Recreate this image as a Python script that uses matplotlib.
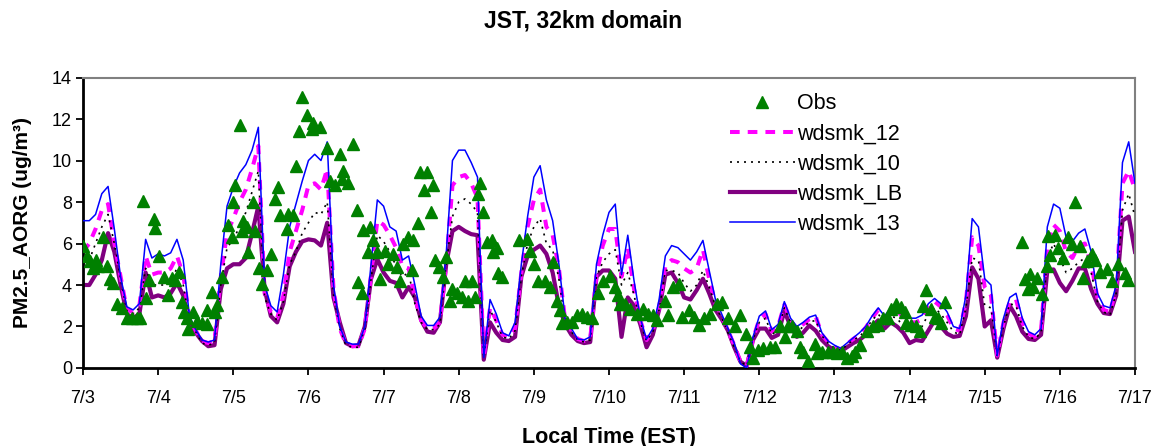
import numpy as np
import matplotlib
matplotlib.use("Agg")
import matplotlib.pyplot as plt

# Hourly PM2.5 AORG, sampled every 2 hours from 7/3 00:00 to 7/17 00:00 (EST)
hours = np.arange(0, 337, 2)

wdsmk_13 = [
    7.1, 7.1, 7.4, 8.4, 8.75, 6.7, 4.4, 2.95, 2.8, 3.1, 6.2, 5.3,
    5.5, 5.4, 5.55, 6.2, 5.2, 2.5, 1.85, 1.35, 1.25, 1.35, 5.0, 7.8,
    8.7, 9.4, 9.8, 10.5, 11.6, 4.0, 3.0, 2.7, 4.5, 6.8, 7.9, 9.0,
    10.0, 10.3, 10.0, 10.9, 4.0, 2.0, 1.25, 1.15, 1.15, 2.0, 5.0, 8.1,
    7.8, 6.8, 6.6, 5.2, 5.4, 4.0, 2.5, 2.05, 2.05, 2.45, 5.5, 10.0,
    10.5, 10.5, 9.9, 9.2, 0.5, 3.3, 2.6, 1.7, 1.55, 2.2, 5.0, 7.3,
    9.2, 9.75, 8.1, 7.1, 5.0, 2.4, 1.9, 1.4, 1.35, 1.5, 5.0, 6.4,
    7.5, 7.9, 4.5, 6.4, 4.2, 2.4, 1.4, 1.9, 3.3, 5.4, 5.9, 5.8,
    5.5, 5.2, 5.6, 6.15, 4.7, 3.3, 2.6, 1.9, 1.2, 0.2, 0.0, 1.5,
    2.5, 2.75, 1.85, 2.1, 3.2, 2.4, 2.0, 2.2, 2.45, 2.55, 1.7, 1.3,
    1.1, 0.95, 1.2, 1.45, 1.7, 2.0, 2.5, 2.9, 2.5, 2.9, 2.95, 2.6,
    2.4, 2.4, 2.55, 3.1, 3.35, 3.1, 2.7, 2.0, 1.9, 3.5, 7.2, 6.8,
    4.3, 4.0, 0.6, 2.4, 3.4, 3.6, 2.4, 1.75, 1.6, 1.9, 6.8, 7.9,
    7.7, 6.3, 6.1, 6.5, 6.7, 5.6, 3.6, 3.0, 2.9, 4.0, 9.9, 10.9,
    8.9,
]

wdsmk_12 = [
    5.6, 6.0, 6.7, 7.6, 7.9, 6.0, 4.4, 2.8, 2.7, 3.0, 5.4, 4.5,
    4.6, 4.6, 4.8, 5.4, 4.5, 2.4, 1.8, 1.3, 1.2, 1.3, 4.4, 6.5,
    7.2, 8.0, 8.6, 9.6, 10.7, 3.6, 2.7, 2.4, 3.5, 5.6, 6.6, 7.6,
    8.8, 8.9, 8.6, 9.6, 3.8, 1.9, 1.15, 1.05, 1.05, 1.9, 4.5, 7.1,
    6.9, 6.4, 5.8, 4.9, 4.8, 3.4, 2.3, 1.9, 1.9, 2.2, 5.0, 8.8,
    9.2, 9.3, 8.9, 8.2, 0.5, 2.9, 2.3, 1.6, 1.5, 1.9, 4.6, 6.8,
    8.1, 8.6, 6.8, 6.4, 4.8, 2.3, 1.8, 1.4, 1.3, 1.4, 4.5, 5.9,
    6.7, 6.7, 4.4, 5.8, 3.8, 2.3, 1.35, 1.8, 2.9, 4.9, 5.2, 5.1,
    4.8, 4.6, 4.8, 5.7, 4.3, 3.1, 2.5, 1.8, 1.1, 0.3, 0.1, 1.4,
    2.35, 2.6, 1.75, 2.0, 3.05, 2.3, 1.85, 2.1, 2.35, 2.5, 1.6, 1.25,
    1.0, 0.9, 1.15, 1.4, 1.6, 1.95, 2.4, 2.8, 2.4, 2.7, 2.8, 2.4,
    2.2, 2.2, 2.35, 2.9, 3.2, 2.95, 2.55, 1.9, 1.8, 3.2, 6.3, 5.9,
    3.9, 3.5, 0.6, 2.2, 3.2, 3.3, 2.2, 1.65, 1.5, 1.8, 5.9, 6.9,
    6.6, 5.6, 5.3, 5.9, 6.0, 5.0, 3.4, 2.8, 2.7, 3.8, 8.9, 9.5,
    8.6,
]

wdsmk_10 = [
    5.0, 5.2, 6.0, 6.8, 7.4, 6.0, 4.3, 2.75, 2.6, 2.9, 4.8, 4.0,
    4.0, 4.0, 4.2, 4.8, 4.0, 2.3, 1.75, 1.2, 1.1, 1.2, 4.0, 5.8,
    6.2, 6.8, 7.5, 8.5, 9.5, 3.4, 2.6, 2.3, 3.2, 5.0, 5.6, 6.5,
    7.0, 7.5, 7.4, 8.0, 3.6, 1.9, 1.1, 1.0, 1.0, 1.9, 4.3, 6.4,
    6.1, 5.6, 4.9, 4.4, 4.6, 3.1, 2.2, 1.85, 1.85, 2.1, 5.0, 7.3,
    8.0, 8.15, 7.9, 7.5, 0.5, 2.8, 2.2, 1.5, 1.4, 1.8, 4.4, 6.0,
    6.8, 7.2, 6.0, 5.7, 4.3, 2.2, 1.75, 1.35, 1.25, 1.35, 4.4, 5.1,
    5.5, 5.7, 4.0, 4.6, 3.5, 2.2, 1.3, 1.75, 2.8, 4.7, 4.7, 4.6,
    4.1, 3.7, 4.0, 4.7, 3.9, 3.0, 2.4, 1.7, 1.0, 0.3, 0.1, 1.4,
    2.2, 2.4, 1.6, 1.85, 2.9, 2.2, 1.7, 2.0, 2.2, 2.3, 1.55, 1.2,
    0.95, 0.85, 1.1, 1.35, 1.5, 1.85, 2.3, 2.6, 2.2, 2.5, 2.4, 2.0,
    1.8, 1.8, 2.0, 2.6, 2.9, 2.6, 2.2, 1.75, 1.6, 2.9, 5.3, 5.2,
    3.0, 2.9, 0.6, 2.0, 3.1, 3.0, 2.0, 1.5, 1.4, 1.7, 5.3, 6.0,
    5.3, 4.6, 4.8, 5.1, 5.3, 4.6, 3.2, 2.7, 2.55, 3.6, 7.6, 8.4,
    7.3,
]

wdsmk_LB = [
    4.0, 4.0, 4.5, 5.2, 6.5, 5.6, 4.0, 2.6, 2.4, 2.6, 4.6, 3.4,
    3.5, 3.4, 3.6, 4.1, 3.5, 2.2, 1.7, 1.3, 1.05, 1.1, 3.8, 4.8,
    5.0, 5.0, 5.3, 6.5, 7.8, 3.8, 2.5, 2.2, 3.1, 4.9, 5.6, 6.1,
    6.2, 6.15, 5.9, 7.0, 3.4, 2.2, 1.2, 1.05, 1.1, 2.0, 4.3, 5.25,
    4.6, 4.2, 4.1, 3.4, 3.9, 3.4, 2.3, 1.75, 1.7, 2.2, 5.0, 6.6,
    6.8, 6.6, 6.45, 6.4, 0.4, 2.2, 1.7, 1.35, 1.3, 1.5, 4.4, 5.4,
    5.7, 5.9, 5.5, 4.6, 3.0, 2.1, 1.6, 1.3, 1.2, 1.25, 4.4, 4.7,
    4.7, 4.3, 1.5, 3.4, 3.0, 2.1, 1.0, 1.6, 2.8, 4.5, 4.6, 4.1,
    3.4, 3.3, 3.75, 4.3, 3.6, 2.8, 2.35, 1.8, 1.0, 0.3, 0.1, 1.35,
    1.9, 1.9, 1.45, 1.6, 2.75, 2.0, 1.5, 1.7, 2.05, 1.8, 1.35, 1.05,
    0.85, 0.8, 1.0, 1.2, 1.35, 1.6, 2.0, 2.3, 1.9, 2.2, 2.0, 1.7,
    1.2, 1.35, 1.3, 1.8, 2.3, 2.0, 1.65, 1.5, 1.55, 2.5, 4.85, 4.3,
    2.0, 2.3, 0.5, 1.9, 3.0, 2.5, 1.75, 1.4, 1.35, 1.6, 4.7, 4.75,
    4.1, 3.7, 4.2, 4.8, 4.8, 3.8, 3.1, 2.65, 2.6, 3.5, 7.1, 7.3,
    5.6,
]

# Observed values: hour since 7/3 00:00 and concentration
obs_hours = [
    0.1, 1.4, 2.2, 3.1, 4.1, 4.9, 6.3, 7.6, 8.6, 9.7, 11.0, 12.3, 14.0, 15.5,
    17.1, 18.2, 19.3, 20.1, 21.2, 22.7, 23.0, 24.2, 25.9, 27.3, 28.3, 29.4,
    30.5, 31.5, 32.3, 33.1, 33.5, 35.2, 36.3, 37.9, 39.5, 39.7, 41.1, 42.2,
    42.9, 44.3, 46.4, 47.5, 48.0, 48.6, 50.1, 50.7, 51.2, 52.3, 52.8, 54.2,
    55.0, 56.3, 57.1, 58.7, 60.0, 61.3, 62.4, 62.9, 65.0, 65.6, 67.2, 68.0,
    69.1, 69.8, 71.4, 73.0, 73.5, 75.7, 77.8, 78.9, 80.5, 82.1, 82.6, 83.1,
    84.7, 86.1, 87.4, 87.9, 89.0, 89.5, 91.1, 91.7, 92.7, 93.8, 94.8, 96.4,
    97.5, 99.1, 100.2, 101.2, 102.3, 103.9, 105.0, 105.5, 107.1, 107.6,
    108.9, 109.8, 111.0, 111.9, 112.4, 113.8, 115.1, 115.9, 117.2, 117.7,
    119.3, 120.9, 122.0, 123.1, 124.1, 125.2, 126.3, 126.8, 127.9, 128.9,
    130.5, 131.1, 132.1, 132.7, 133.7, 139.3, 141.7, 142.8, 143.9, 145.4,
    147.6, 149.2, 150.0, 151.3, 152.4, 152.9, 154.5, 156.1, 157.7, 159.3,
    160.9, 162.5, 164.6, 166.2, 168.3, 169.9, 171.0, 171.5, 173.1, 174.7,
    176.9, 179.0, 180.6, 182.2, 183.3, 185.9, 187.0, 188.6, 190.2, 191.2,
    193.4, 195.0, 196.9, 198.2, 200.3, 202.4, 204.0, 206.1, 208.2, 209.8,
    211.9, 213.0, 214.1, 215.6, 217.2, 219.4, 221.0, 222.6, 224.2, 225.2,
    226.5, 227.9, 229.0, 230.0, 231.6, 233.7, 234.3, 235.9, 238.0, 239.6,
    240.7, 242.3, 243.9, 245.5, 246.5, 248.1, 250.3, 252.4, 254.0, 255.6,
    257.2, 258.2, 259.8, 261.4, 262.5, 263.0, 264.6, 266.2, 267.3, 268.4,
    269.4, 271.0, 272.1, 273.2, 274.2, 275.3, 299.8, 300.9, 301.9, 302.4,
    303.5, 304.6, 306.2, 307.8, 308.3, 308.8, 310.4, 311.5, 313.1, 314.7,
    315.8, 316.8, 318.4, 319.5, 320.6, 322.2, 323.2, 324.8, 327.0, 328.5,
    330.7, 332.8, 333.9,
]
obs_values = [
    5.9, 5.4, 5.15, 4.8, 5.2, 4.9, 6.3, 4.9, 4.3, 4.1, 3.1, 2.9, 2.4, 2.4,
    2.4, 2.4, 8.05, 3.35, 4.25, 7.2, 6.75, 5.4, 4.4, 3.5, 4.35, 4.25,
    4.65, 3.2, 2.7, 2.4, 1.9, 2.7, 2.25, 2.15, 2.1, 2.8, 3.65, 2.7,
    3.05, 4.4, 6.9, 6.3, 8.0, 8.8, 11.7, 6.6, 7.1, 6.8, 5.6, 8.0,
    6.6, 4.8, 4.05, 4.7, 5.5, 8.15, 8.7, 7.35, 6.7, 7.4, 7.35, 9.75,
    11.4, 13.05, 12.2, 11.5, 11.8, 11.6, 10.6, 9.0, 8.8, 10.3, 9.1, 9.5,
    8.9, 10.8, 7.6, 4.15, 3.6, 6.65, 5.6, 6.8, 6.15, 5.6, 4.3, 5.65,
    5.0, 5.5, 4.85, 4.2, 6.0, 6.3, 4.7, 6.15, 7.0, 9.45,
    8.6, 9.45, 7.5, 8.8, 5.2, 4.85, 4.4, 5.35, 3.25, 3.8,
    3.6, 3.4, 4.2, 3.25, 4.2, 3.4, 8.4, 8.9, 7.5, 6.05,
    6.15, 5.6, 5.8, 4.6, 4.4, 6.15, 6.2, 5.65, 5.0, 4.2,
    4.2, 3.9, 5.1, 3.25, 2.8, 2.15, 2.2, 2.2, 2.55, 2.6,
    2.45, 2.4, 3.6, 4.2, 4.45, 3.9, 3.5, 3.1, 3.1, 2.85,
    2.6, 2.85, 2.6, 2.55, 2.3, 3.25, 2.55, 3.9, 4.05, 2.45,
    2.8, 2.45, 2.05, 2.4, 2.6, 3.1, 3.2, 2.4, 2.0, 2.55,
    1.65, 1.0, 0.5, 0.85, 0.95, 1.0, 1.0, 2.0, 1.5, 2.0,
    2.0, 1.8, 1.0, 0.75, 0.35, 1.15, 0.7, 0.75, 0.75, 0.75,
    0.7, 0.75, 0.5, 0.6, 0.75, 1.1, 1.8, 2.0, 2.05, 2.4,
    2.4, 2.85, 3.1, 2.95, 2.7, 2.15, 2.05, 2.0, 1.8, 3.0,
    3.75, 2.85, 2.45, 2.4, 2.15, 3.2, 6.05, 4.3, 3.8, 4.55,
    3.9, 4.35, 3.55, 4.9, 6.35, 5.45, 6.4, 5.8, 5.3, 6.3,
    6.0, 8.0, 5.9, 4.35, 5.15, 5.5, 5.2, 4.65, 4.75, 4.2,
    5.0, 4.6, 4.25,
]

day_labels = ["7/3", "7/4", "7/5", "7/6", "7/7", "7/8", "7/9", "7/10",
              "7/11", "7/12", "7/13", "7/14", "7/15", "7/16", "7/17"]
y_ticks = [0, 2, 4, 6, 8, 10, 12, 14]

plt.rcParams["font.family"] = ["Liberation Sans", "DejaVu Sans"]

fig = plt.figure(figsize=(11.66, 4.46), dpi=100)
ax = fig.add_axes([0.0712, 0.1749, 0.9022, 0.6513])

ax.plot(hours, wdsmk_12, color="#FF00FF", lw=2.9, ls=(0, (2.4, 2.0)),
        label="wdsmk_12", zorder=3)
ax.plot(hours, wdsmk_10, color="black", lw=1.2, ls=(0, (1.2, 3.0)),
        label="wdsmk_10", zorder=4)
ax.plot(hours, wdsmk_LB, color="#800080", lw=3.0, label="wdsmk_LB", zorder=2)
ax.plot(hours, wdsmk_13, color="#0000FF", lw=1.1, label="wdsmk_13", zorder=5)
ax.plot(obs_hours, obs_values, ls="none", marker="^", ms=9,
        color="#008000", label="Obs", zorder=6)

ax.set_xlim(0, 336)
ax.set_ylim(0, 14)
ax.set_xticks(np.arange(0, 337, 24))
ax.set_xticklabels(day_labels)
ax.set_yticks(y_ticks)

ax.tick_params(axis="x", direction="out", length=5, width=1.3, pad=11,
               labelsize=13)
ax.tick_params(axis="y", direction="out", length=5, width=1.3, pad=3,
               labelsize=13)

for side in ("left", "bottom"):
    ax.spines[side].set_color("black")
    ax.spines[side].set_linewidth(2.0)
for side in ("top", "right"):
    ax.spines[side].set_color("#808080")
    ax.spines[side].set_linewidth(1.5)

fig.suptitle("JST, 32km domain", x=0.5, y=0.978, fontsize=16.5,
             fontweight="bold")
ax.set_xlabel("Local Time (EST)", fontsize=15.5, fontweight="bold",
              labelpad=14)
ax.set_ylabel("PM2.5_AORG (ug/m³)", fontsize=15, fontweight="bold",
              labelpad=14)

handles, labels = ax.get_legend_handles_labels()
order = [4, 0, 1, 2, 3]
ax.legend([handles[i] for i in order], [labels[i] for i in order],
          loc="upper left", bbox_to_anchor=(0.607, 0.975), frameon=False,
          fontsize=15.5, handlelength=3.0, handletextpad=0.1,
          labelspacing=0.42, borderaxespad=0.0)

fig.savefig("out.png", dpi=100)
